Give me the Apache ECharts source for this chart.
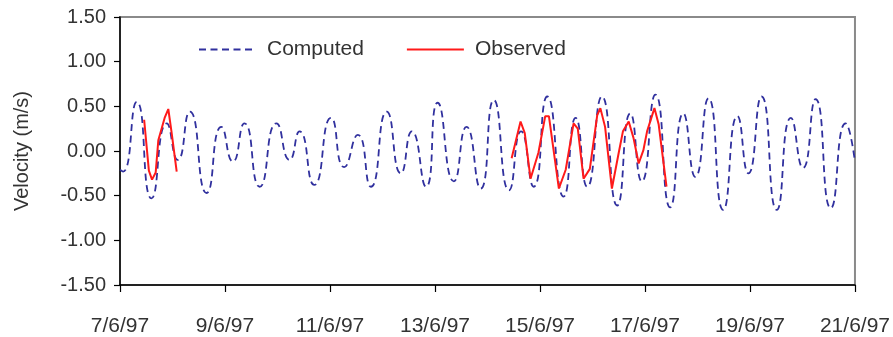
<!DOCTYPE html>
<html>
<head>
<meta charset="utf-8">
<script src="https://cdn.jsdelivr.net/npm/echarts@6/dist/echarts.min.js"></script>
<style>
  html, body { margin: 0; padding: 0; background: #fff; }
  #chart { width: 893px; height: 337px; }
</style>
</head>
<body>
<div id="chart"></div>
<script>
// days since 7/6/97 at each peak / trough
const computedDay = [0.00, 0.06, 0.32, 0.60, 0.89, 1.10, 1.33, 1.65, 1.93, 2.15, 2.37, 2.66, 2.98, 3.23,
  3.42, 3.70, 4.02, 4.27, 4.53, 4.78, 5.08, 5.35, 5.56, 5.83, 6.05, 6.36, 6.60, 6.87, 7.12, 7.41,
  7.64, 7.88, 8.14, 8.45, 8.68, 8.90, 9.18, 9.47, 9.72, 9.94, 10.20, 10.48, 10.73, 10.96, 11.21,
  11.49, 11.76, 11.97, 12.22, 12.51, 12.78, 13.01, 13.25, 13.54, 13.82, 14.00]
const computedVel = [-0.21, -0.23, 0.55, -0.53, 0.31, -0.10, 0.44, -0.47, 0.27, -0.12, 0.31, -0.40, 0.31, -0.10,
  0.22, -0.38, 0.37, -0.18, 0.18, -0.40, 0.44, -0.25, 0.22, -0.40, 0.54, -0.34, 0.27, -0.42, 0.57, -0.44,
  0.22, -0.40, 0.61, -0.51, 0.37, -0.40, 0.61, -0.61, 0.42, -0.34, 0.63, -0.63, 0.42, -0.29, 0.59,
  -0.66, 0.39, -0.25, 0.61, -0.66, 0.37, -0.19, 0.58, -0.64, 0.31, -0.12]

// observed record, two stretches (null = gap)
const observedDay = [0.46, 0.55, 0.61, 0.68, 0.73, 0.85, 0.92, 0.98, 1.08, null,
  7.46, 7.63, 7.71, 7.82, 7.97, 8.10, 8.17, 8.36, 8.49, 8.64, 8.72, 8.83, 8.95, 9.09, 9.15, 9.24,
  9.37, 9.50, 9.58, 9.69, 9.78, 9.88, 9.97, 10.04, 10.18, 10.26, 10.41]
const observedVel = [0.35, -0.22, -0.32, -0.24, 0.12, 0.37, 0.47, 0.22, -0.23, null,
  -0.08, 0.33, 0.20, -0.31, -0.02, 0.39, 0.39, -0.42, -0.21, 0.31, 0.25, -0.31, -0.20, 0.40, 0.48, 0.27,
  -0.42, -0.02, 0.22, 0.33, 0.15, -0.14, 0.01, 0.22, 0.48, 0.30, -0.40]

const xTickLabels = ['7/6/97', '9/6/97', '11/6/97', '13/6/97', '15/6/97', '17/6/97', '19/6/97', '21/6/97']

const chart = echarts.init(document.getElementById('chart'), null, { renderer: 'canvas' })

const font = 'Liberation Sans'
const textColor = '#333'

const option = {
  animation: false,
  backgroundColor: '#fff',
  textStyle: { fontFamily: font },
  grid: {
    left: 120,
    top: 17,
    right: 37,
    bottom: 52,
    show: true,
    borderColor: '#8a8a8a',
    borderWidth: 2
  },
  legend: {
    left: 193,
    top: 34,
    itemWidth: 57,
    itemHeight: 20,
    itemGap: 42,
    itemStyle: { opacity: 0 },
    textStyle: { fontFamily: font, fontSize: 21, color: textColor, padding: [0, 0, 0, 6] },
    data: ['Computed', 'Observed']
  },
  xAxis: {
    type: 'value',
    min: 0,
    max: 14,
    interval: 2,
    splitLine: { show: false },
    axisLine: { onZero: false, lineStyle: { color: '#000', width: 1.5 } },
    axisTick: { length: 7, lineStyle: { color: '#000', width: 1.2 } },
    axisLabel: {
      margin: 31,
      fontSize: 21,
      color: textColor,
      fontFamily: font,
      formatter: v => xTickLabels[Math.round(v / 2)]
    }
  },
  yAxis: {
    type: 'value',
    min: -1.5,
    max: 1.5,
    interval: 0.5,
    name: 'Velocity (m/s)',
    nameLocation: 'middle',
    nameGap: 88,
    nameTextStyle: { fontSize: 20, color: textColor, fontFamily: font },
    splitLine: { show: false },
    axisLine: { show: true, lineStyle: { color: '#000', width: 1.5 } },
    axisTick: { show: true, length: 6, lineStyle: { color: '#000', width: 1.2 } },
    axisLabel: {
      margin: 14,
      fontSize: 20,
      color: textColor,
      fontFamily: font,
      formatter: v => v.toFixed(2)
    }
  },
  series: [
    {
      name: 'Computed',
      type: 'line',
      smooth: 0.6,
      symbol: 'none',
      lineStyle: { color: '#30309e', width: 1.8, type: [7, 4.5] },
      itemStyle: { color: '#30309e' },
      data: computedDay.map((d, i) => [d, computedVel[i]])
    },
    {
      name: 'Observed',
      type: 'line',
      symbol: 'none',
      connectNulls: false,
      lineStyle: { color: '#ff1a1a', width: 2 },
      itemStyle: { color: '#ff1a1a' },
      data: observedDay.map((d, i) => (d === null ? '-' : [d, observedVel[i]]))
    }
  ]
}

chart.setOption(option)
</script>
</body>
</html>
